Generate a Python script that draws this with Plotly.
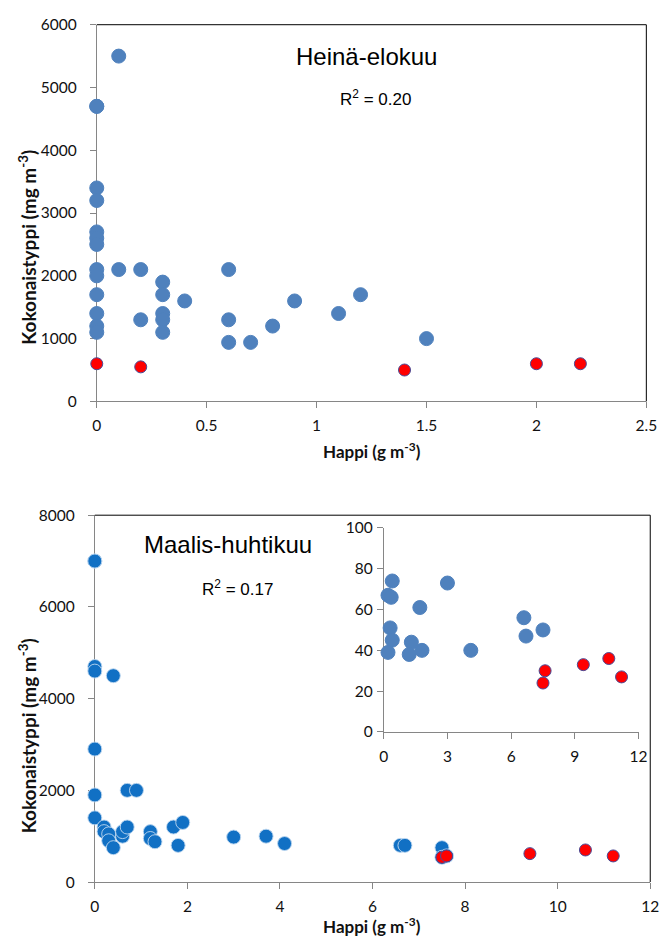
import plotly.graph_objects as go

# ---------------- Data ----------------
# Top chart: Heinä-elokuu
top_blue_x = [0.1, 0, 0, 0, 0, 0, 0, 0, 0, 0, 0, 0, 0, 0, 0.1, 0.2, 0.2, 0.3, 0.3, 0.3,
              0.3, 0.3, 0.4, 0.6, 0.6, 0.6, 0.7, 0.8, 0.9, 1.1, 1.2, 1.5]
top_blue_y = [5500, 4700, 3400, 3200, 2700, 2600, 2500, 2100, 2000, 1700, 1400, 1200, 1100, 4700,
              2100, 2100, 1300, 1900, 1700, 1400, 1300, 1100, 1600, 2100, 1300, 940, 940,
              1200, 1600, 1400, 1700, 1000]
top_red_x = [0, 0.2, 1.4, 2.0, 2.2]
top_red_y = [600, 550, 500, 600, 600]

# Bottom chart: Maalis-huhtikuu
bot_blue_x = [0, 0, 0, 0, 0.4, 0, 0, 0, 0.7, 0.9, 0.2, 0.2, 0.3, 0.3, 0.4, 0.6, 0.6, 0.7,
              1.2, 1.2, 1.3, 1.7, 1.9, 1.8, 3.0, 3.7, 4.1, 6.6, 6.7, 7.5, 7.5, 7.6]
bot_blue_y = [7000, 7000, 4700, 4600, 4500, 2900, 1900, 1400, 2000, 2000, 1200, 1100, 1050,
              900, 750, 1000, 1100, 1200, 1100, 950, 880, 1200, 1300, 800, 980, 1000, 840,
              800, 800, 750, 540, 570]
bot_red_x = [7.5, 7.6, 9.4, 10.6, 11.2]
bot_red_y = [540, 570, 620, 700, 570]

# Inset
ins_blue_x = [0.4, 0.2, 0.35, 3.0, 1.7, 0.3, 0.4, 0.2, 1.3, 1.2, 1.8, 4.1, 6.6, 6.7, 7.5]
ins_blue_y = [74, 67, 66, 73, 61, 51, 45, 39, 44, 38, 40, 40, 56, 47, 50]
ins_red_x = [7.6, 7.5, 9.4, 10.6, 11.2]
ins_red_y = [30, 24, 33, 36, 27]

top_title = "Heinä-elokuu"
top_r2 = "R<sup>2</sup> = 0.20"
bot_title = "Maalis-huhtikuu"
bot_r2 = "R<sup>2</sup> = 0.17"
x_title = "<b>Happi (g m<sup>-3</sup>)</b>"
y_title = "<b>Kokonaistyppi (mg m<sup>-3</sup>)</b>"

# ---------------- Styles ----------------
W, H = 671, 945
BLUE_A = "#4F81BD"
BLUE_B = "#1170C4"
RED = "#FF0000"
RED_EDGE = "#4A4A95"
AX = "#868686"
TICKFONT = dict(family="Lato, Calibri, sans-serif", size=15.5, color="#111111")


def px(xp):
    return xp / W


def py(yp):
    return 1 - yp / H


fig = go.Figure()


def add(xv, yv, color, size, line_color, xa, ya):
    fig.add_trace(go.Scatter(
        x=xv, y=yv, mode="markers", xaxis=xa, yaxis=ya, showlegend=False,
        hoverinfo="skip", cliponaxis=False,
        marker=dict(color=color, size=size, line=dict(color=line_color, width=1)),
    ))


add(top_blue_x, top_blue_y, BLUE_A, 14, BLUE_A, "x", "y")
add(top_red_x, top_red_y, RED, 12, RED_EDGE, "x", "y")
add(bot_blue_x, bot_blue_y, BLUE_B, 14, "rgba(190,215,240,0.9)", "x2", "y2")
add(bot_red_x, bot_red_y, RED, 12, RED_EDGE, "x2", "y2")
add(ins_blue_x, ins_blue_y, BLUE_A, 14, BLUE_A, "x3", "y3")
add(ins_red_x, ins_red_y, RED, 12, RED_EDGE, "x3", "y3")

common = dict(showgrid=False, zeroline=False, showline=True, linecolor=AX, linewidth=1,
              ticks="outside", ticklen=6, tickcolor=AX, tickwidth=1, tickfont=TICKFONT,
              fixedrange=True, layer="below traces")

fig.update_layout(
    width=W, height=H, margin=dict(l=0, r=0, t=0, b=0),
    paper_bgcolor="white", plot_bgcolor="white",
    xaxis=dict(domain=[px(94), px(657)], anchor="y", range=[0, 2.5], dtick=0.5,
               ticklabelstandoff=4, **common),
    yaxis=dict(domain=[py(399), py(15)], anchor="x", range=[0, 6000], dtick=1000,
               tickformat="d", ticklabelstandoff=10, **common),
    xaxis2=dict(domain=[px(92), px(661)], anchor="y2", range=[0, 12], dtick=2,
                ticklabelstandoff=4, **common),
    yaxis2=dict(domain=[py(889), py(515)], anchor="x2", range=[0, 8000], dtick=2000,
                tickformat="d", ticklabelstandoff=10, **common),
    xaxis3=dict(domain=[px(388), px(649)], anchor="y3", range=[0, 12], dtick=3,
                ticklabelstandoff=4, **common),
    yaxis3=dict(domain=[py(736), py(528)], anchor="x3", range=[0, 100], dtick=20,
                ticklabelstandoff=1, **common),
)

# Black top/right borders of the two main plot areas
for xr, yr in (("x", "y"), ("x2", "y2")):
    fig.add_shape(type="line", xref=f"{xr} domain", yref=f"{yr} domain",
                  x0=0, x1=1, y0=1, y1=1, line=dict(color="black", width=1))
    fig.add_shape(type="line", xref=f"{xr} domain", yref=f"{yr} domain",
                  x0=1, x1=1, y0=0, y1=1, line=dict(color="black", width=1))

ARIAL = "Liberation Sans, Arial, sans-serif"
TITLEFONT = dict(family="Lato, Calibri, sans-serif", size=17, color="#111111")


def ann(text, x, y, font, angle=0):
    fig.add_annotation(text=text, xref="paper", yref="paper", x=px(x), y=py(y),
                       xanchor="center", yanchor="middle", showarrow=False,
                       font=font, textangle=angle)


ann(top_title, 370, 47, dict(family=ARIAL, size=24, color="black"))
ann(top_r2, 380, 90, dict(family=ARIAL, size=17, color="black"))
ann(bot_title, 228, 545, dict(family=ARIAL, size=24, color="black"))
ann(bot_r2, 238, 589, dict(family=ARIAL, size=17, color="black"))
ann(x_title, 376, 449, TITLEFONT)
ann(x_title, 376, 933, TITLEFONT)
ann(y_title, 23, 242, dict(family="Lato, Calibri, sans-serif", size=19, color="#111111"), -90)
ann(y_title, 23, 740, dict(family="Lato, Calibri, sans-serif", size=19, color="#111111"), -90)

fig.write_html("out.html")
